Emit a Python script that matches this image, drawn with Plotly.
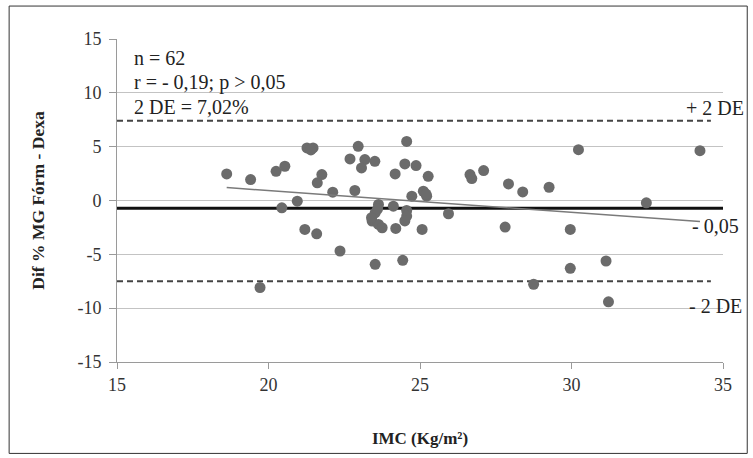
import plotly.graph_objects as go

imc = [18.62, 19.41, 19.72, 20.25, 20.54, 21.27, 21.47, 20.44, 20.95, 21.20,
       21.59, 21.76, 21.61, 22.96, 24.56, 22.69, 23.18, 23.51, 23.07, 24.50,
       24.87, 24.18, 25.27, 22.12, 22.85, 24.73, 25.11, 25.22, 23.63, 24.12,
       24.56, 23.52, 23.42, 23.63, 23.75, 24.56, 24.20, 25.07, 22.36, 23.52,
       24.43, 26.65, 26.71, 27.10, 27.92, 28.39, 25.94, 27.81, 28.75, 30.23,
       34.24, 29.26, 32.47, 29.96, 29.96, 31.14, 31.22, 23.40, 24.50, 23.60,
       25.20, 21.40]
dif = [2.47, 1.94, -8.08, 2.71, 3.18, 4.88, 4.88, -0.68, -0.06, -2.69,
       -3.09, 2.41, 1.64, 5.03, 5.49, 3.86, 3.80, 3.64, 3.03, 3.40,
       3.24, 2.47, 2.25, 0.77, 0.93, 0.40, 0.86, 0.40, -0.37, -0.53,
       -0.93, -1.14, -1.91, -2.22, -2.53, -1.45, -2.59, -2.69, -4.69, -5.93,
       -5.56, 2.41, 2.04, 2.78, 1.54, 0.80, -1.23, -2.47, -7.78, 4.72,
       4.63, 1.23, -0.22, -2.69, -6.30, -5.62, -9.41, -1.60, -1.90, -0.80,
       0.60, 4.70]

mean_diff = -0.72
upper_loa = 7.4
lower_loa = -7.5
reg_x = [18.62, 34.24]
reg_y = [1.20, -1.95]

stats_lines = ["n = 62", "r = - 0,19; p > 0,05", "2 DE = 7,02%"]
x_ticks = [15, 20, 25, 30, 35]
y_ticks = [-15, -10, -5, 0, 5, 10, 15]
y_tick_labels = ["-15", "-10", "-5", "0", "5", "10", "15"]

SERIF = "Liberation Serif, Times New Roman, serif"
GRID = "#c3c3c3"

fig = go.Figure()

# limits of agreement (dashed)
for yv in (upper_loa, lower_loa):
    fig.add_trace(go.Scatter(x=[15, 34.6], y=[yv, yv], mode="lines",
                             line=dict(color="#444444", width=2, dash="6px,4px"),
                             hoverinfo="skip", showlegend=False))
# mean line
fig.add_trace(go.Scatter(x=[15, 35], y=[mean_diff, mean_diff], mode="lines",
                         line=dict(color="#111111", width=3),
                         hoverinfo="skip", showlegend=False))
# points
fig.add_trace(go.Scatter(x=imc, y=dif, mode="markers",
                         marker=dict(color="#6b6b6b", size=11),
                         showlegend=False))
# regression line
fig.add_trace(go.Scatter(x=reg_x, y=reg_y, mode="lines",
                         line=dict(color="#7a7a7a", width=1.5),
                         hoverinfo="skip", showlegend=False))

annotations = []
for i, t in enumerate(stats_lines):
    annotations.append(dict(x=15.5, y=13.2 - i * 2.25, xref="x", yref="y", text=t,
                            showarrow=False, xanchor="left", yanchor="middle",
                            font=dict(family=SERIF, size=20, color="#222222")))
for t, yv in (("+ 2 DE", 8.6), ("- 0,05", -2.4), ("- 2 DE", -9.8)):
    annotations.append(dict(x=34.75, y=yv, xref="x", yref="y", text=t,
                            showarrow=False, xanchor="center", yanchor="middle",
                            font=dict(family=SERIF, size=20, color="#222222")))

fig.update_layout(
    width=753, height=458,
    margin=dict(l=117, r=30, t=39, b=96),
    paper_bgcolor="white", plot_bgcolor="white",
    font=dict(family=SERIF, size=17, color="#222222"),
    annotations=annotations,
    shapes=[dict(type="rect", xref="paper", yref="paper",
                 x0=-0.178, x1=1.04, y0=-0.283, y1=1.102,
                 line=dict(color="#333333", width=1))],
    xaxis=dict(range=[15, 35], tickvals=x_ticks, showgrid=False, zeroline=False,
               showline=True, linecolor="#9a9a9a", linewidth=1,
               ticks="outside", ticklen=6, tickcolor="#9a9a9a",
               tickfont=dict(family=SERIF, size=18, color="#333333"),
               title=dict(text="<b>IMC (Kg/m²)</b>", standoff=38,
                          font=dict(family=SERIF, size=17, color="#222222"))),
    yaxis=dict(range=[-15, 15], tickvals=y_ticks, ticktext=y_tick_labels,
               showgrid=True, gridcolor=GRID, gridwidth=1, zeroline=False,
               showline=True, linecolor="#9a9a9a", linewidth=1,
               ticks="outside", ticklen=7, tickcolor="#9a9a9a",
               ticklabelstandoff=4,
               tickfont=dict(family=SERIF, size=18, color="#333333"),
               title=dict(text="<b>Dif % MG Fórm - Dexa</b>", standoff=28,
                          font=dict(family=SERIF, size=17.5, color="#222222"))),
)

fig.write_html("out.html", config={"displayModeBar": False},
               post_script="document.body.style.margin='0';document.body.style.overflow='hidden';")
